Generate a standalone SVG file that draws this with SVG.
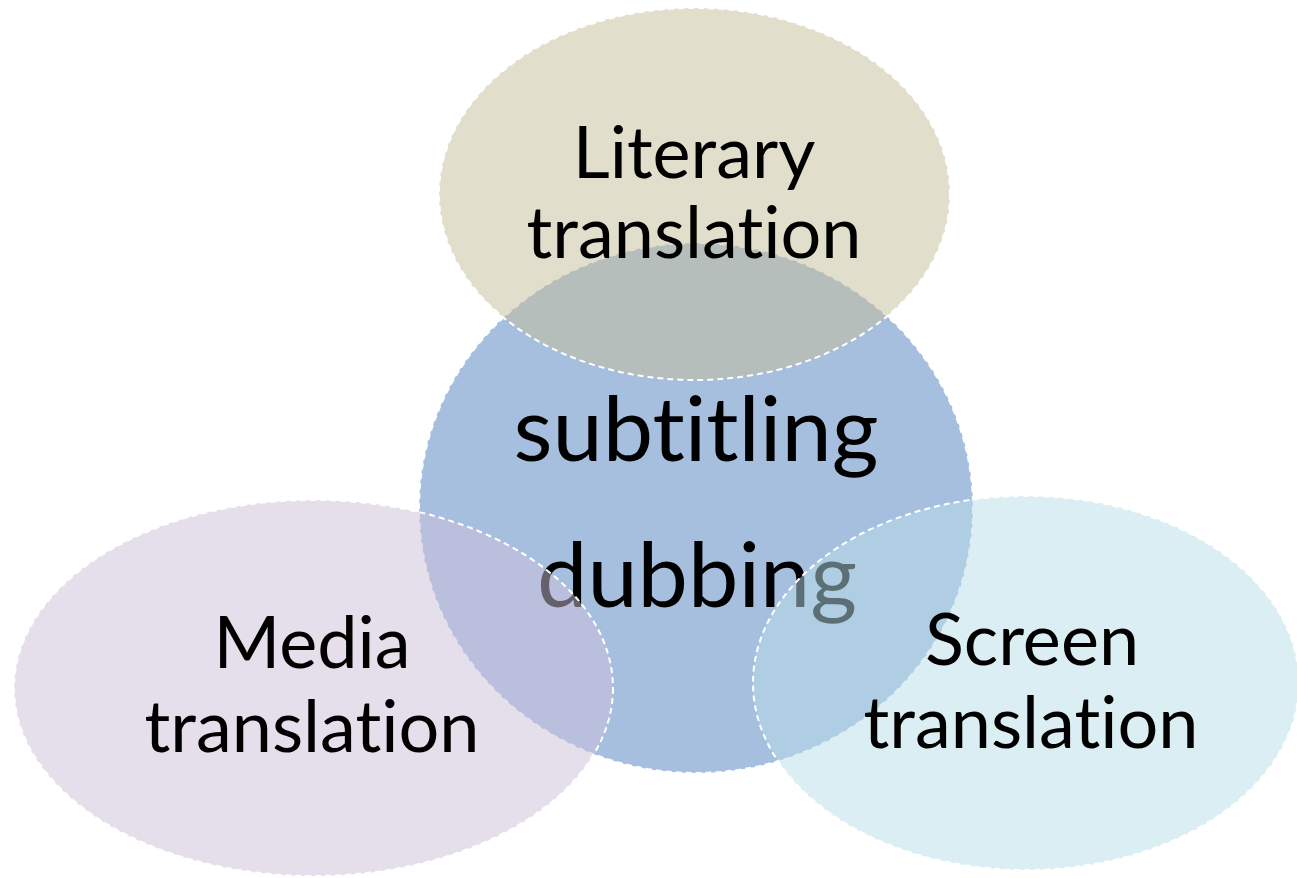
<svg xmlns="http://www.w3.org/2000/svg" width="1297" height="878" viewBox="0 0 1297 878">
  <style>
    .ring { stroke: #ffffff; stroke-width: 2; stroke-dasharray: 6 4; }
    .label { font-family: Lato, "Noto Sans", "Liberation Sans", sans-serif; fill: #000000; text-anchor: middle; font-variant-ligatures: none; font-feature-settings: "liga" 0, "clig" 0; }
    .outer { font-size: 72px; }
    .inner { font-size: 90px; }
  </style>
  <rect width="1297" height="878" fill="#ffffff"/>

  <!-- central area with its own two terms -->
  <g id="node-center">
    <ellipse class="ring" cx="696" cy="508" rx="277" ry="265" fill="#a7bfde"/>
    <text class="label inner" x="696" y="461">subtitling</text>
    <text class="label inner" x="697" y="607">dubbing</text>
  </g>

  <!-- translucent outer fields laid over the centre -->
  <g id="node-media">
    <ellipse class="ring" cx="313.5" cy="688" rx="299.5" ry="188" fill="#ccc0da" fill-opacity="0.5"/>
  </g>
  <g id="node-screen">
    <ellipse class="ring" cx="1026" cy="683" rx="273" ry="187" fill="#b7dde8" fill-opacity="0.5"/>
  </g>
  <g id="node-literary">
    <ellipse class="ring" cx="694.5" cy="194" rx="255.5" ry="186" fill="#c4bd97" fill-opacity="0.5"/>
  </g>

  <!-- labels of the outer fields -->
  <g id="labels">
    <text class="label outer" x="694" y="178">Literary</text>
    <text class="label outer" x="694" y="258">translation</text>
    <text class="label outer" x="312" y="668">Media</text>
    <text class="label outer" x="312" y="752">translation</text>
    <text class="label outer" x="1032" y="665">Screen</text>
    <text class="label outer" x="1031" y="748">translation</text>
  </g>

  <g id="connectors"></g>
</svg>
